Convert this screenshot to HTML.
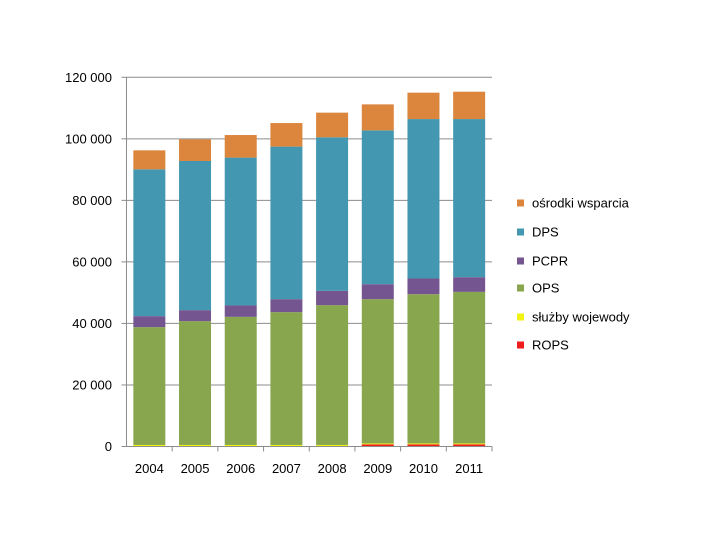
<!DOCTYPE html>
<html><head><meta charset="utf-8"><style>
body{margin:0;background:#fff;}
svg text{font-family:"Liberation Sans",sans-serif;font-size:13px;fill:#000;}
</style></head><body>
<svg id="chart" width="720" height="540">
<g id="grid"></g><g id="bars"></g><g id="axes"></g><g id="legend"></g>
</svg>
<script>
const categories = ["2004","2005","2006","2007","2008","2009","2010","2011"];
const rops = [0,0,0,0,0,700,700,700];
const sluzby = [500,500,500,500,500,300,300,300];
const ops = [38300,40250,41640,43170,45440,46890,48510,49260];
const pcpr = [3570,3570,3700,4220,4640,4870,5100,4770];
const dps = [47730,48480,48060,49580,49910,50000,51820,51400];
const osrodki = [6160,7040,7330,7660,8020,8440,8570,8890];
const yTicks = [0,20000,40000,60000,80000,100000,120000];
const yTickLabels = ["0","20 000","40 000","60 000","80 000","100 000","120 000"];

const NS="http://www.w3.org/2000/svg";
const left=126.5, right=492, y0=446.5, yTop=77.3, yMax=120000;
const step=(right-left)/categories.length, bw=32;
const y=v=>y0-(v/yMax)*(y0-yTop);
const xc=i=>left+step*(i+0.5);
function mk(tag,attrs,parent){const e=document.createElementNS(NS,tag);for(const k in attrs)e.setAttribute(k,attrs[k]);parent.appendChild(e);return e;}
const grid=document.getElementById('grid'),bars=document.getElementById('bars'),axes=document.getElementById('axes'),legend=document.getElementById('legend');
yTicks.forEach((t,i)=>{
  if(t>0){const l=mk('line',{x1:left,x2:right,y1:y(t),y2:y(t),stroke:'#8c8c8c','stroke-width':1},grid);
  
  }
  const tk=mk('line',{x1:left-5,x2:left,y1:y(t),y2:y(t),stroke:'#8c8c8c'},axes);
  
  
  const tx=mk('text',{x:112,y:y(t)+4.5,'text-anchor':'end'},axes);
  tx.textContent=yTickLabels[i];
  
  
});
const series=[
 {name:'ROPS',vals:rops,color:'#ee1c1c'},
 {name:'służby wojewody',vals:sluzby,color:'#f2f214'},
 {name:'OPS',vals:ops,color:'#88a64e'},
 {name:'PCPR',vals:pcpr,color:'#74558f'},
 {name:'DPS',vals:dps,color:'#4397b0'},
 {name:'ośrodki wsparcia',vals:osrodki,color:'#dc853d'}
];
categories.forEach((c,i)=>{
  let base=0;
  series.forEach(s=>{
    const v=s.vals[i];
    if(v>0){const r=mk('rect',{x:xc(i)-bw/2,y:y(base+v),width:bw,height:y(base)-y(base+v),fill:s.color},bars);
    
    }
    base+=v;
  });
  const tx=mk('text',{x:xc(i),y:473,'text-anchor':'middle'},axes);
  tx.textContent=c;
  
  
  const tk=mk('line',{x1:left+step*(i+1),x2:left+step*(i+1),y1:y0,y2:y0+5,stroke:'#8c8c8c'},axes);
  
  
});
const ax=mk('line',{x1:left,x2:left,y1:yTop,y2:y0,stroke:'#8c8c8c'},axes);


const bx=mk('line',{x1:left,x2:right,y1:y0,y2:y0,stroke:'#8c8c8c'},axes);


const ly=[203,232,261,288,317,345];
series.slice().reverse().forEach((s,i)=>{
  const r=mk('rect',{x:517,y:ly[i]-3.5,width:7,height:7,fill:s.color},legend);
  
  
  const t=mk('text',{x:532,y:ly[i]+4.5},legend);
  t.textContent=s.name;
  
  
});
</script>
</body></html>
